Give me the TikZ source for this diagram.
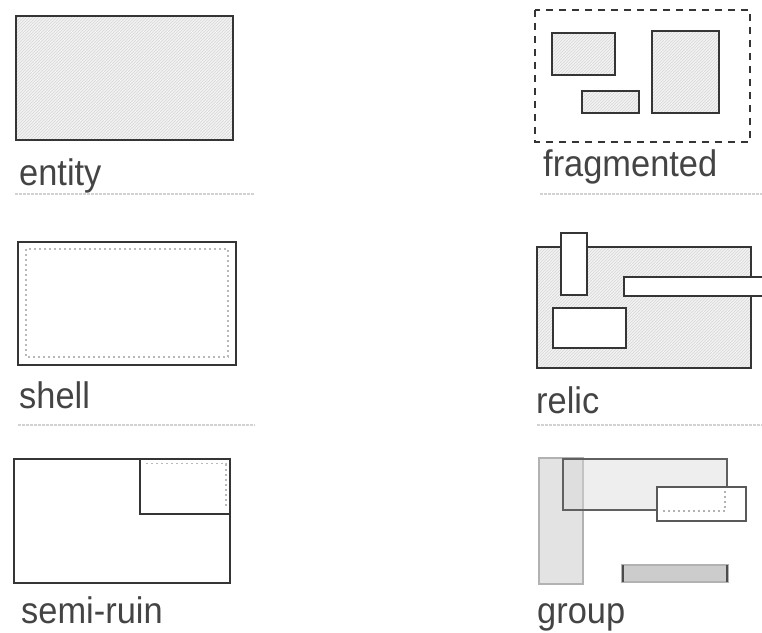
\documentclass[tikz,border=0pt]{standalone}
\usepackage{fontspec}
\setmainfont{Liberation Sans}[FakeStretch=0.93]
\usetikzlibrary{patterns}
\definecolor{ink}{HTML}{353535}
\definecolor{txt}{HTML}{444444}
\definecolor{sep}{HTML}{D2D2D2}
\definecolor{hatchbg}{HTML}{F3F3F3}
\definecolor{hatch}{HTML}{D6D6D6}
\tikzset{
  wall/.style={draw=ink, line width=2.6pt},
  hatched/.style={fill=hatchbg, postaction={pattern=north east lines, pattern color=hatch}},
  ghost/.style={draw=gray!55, line width=1.6pt, dash pattern=on 2pt off 3pt},
  sepline/.style={draw=sep, line width=1.2pt, dash pattern=on 3pt off 1pt},
  label/.style={font=\fontsize{37}{40}\selectfont, text=txt, inner sep=0pt, anchor=base west},
  frag/.style={draw=ink, line width=2.6pt, dash pattern=on 7pt off 6pt},
}
\begin{document}
\begin{tikzpicture}[x=1pt,y=-1pt]
\useasboundingbox (0,0) rectangle (762,632);
% ---------- entity
\path[hatched] (16,16) rectangle (233,140);
\draw[wall] (16,16) rectangle (233,140);
\node[label] (lentity) at (19,185) {entity};
\draw[sepline] (15,194) -- (255,194);
% ---------- fragmented
\draw[frag] (535,10) rectangle (750,142);
\path[hatched] (552,33) rectangle (615,75);
\draw[wall] (552,33) rectangle (615,75);
\path[hatched] (582,91) rectangle (639,113);
\draw[wall] (582,91) rectangle (639,113);
\path[hatched] (652,31) rectangle (719,113);
\draw[wall] (652,31) rectangle (719,113);
\node[label] (lfrag) at (543,176) {fragmented};
\draw[sepline] (540,194) -- (762,194);
% ---------- shell
\draw[wall] (18,242) rectangle (236,365);
\draw[ghost] (26,249) rectangle (228,357);
\node[label] (lshell) at (19,408) {shell};
\draw[sepline] (18,425) -- (255,425);
% ---------- relic
\path[hatched] (537,247) rectangle (751,368);
\draw[wall] (537,247) rectangle (751,368);
\draw[draw=ink, line width=2.3pt, fill=white] (561,233) rectangle (587,295);
\draw[draw=ink, line width=2.3pt, fill=white] (553,308) rectangle (626,348);
\draw[draw=ink, line width=2.3pt, fill=white] (624,277) rectangle (775,296);
\node[label] (lrelic) at (536,413) {relic};
\draw[sepline] (537,425) -- (762,425);
% ---------- semi-ruin
\draw[wall] (14,459) rectangle (230,583);
\draw[wall] (140,459) -- (140,514) -- (230,514);
\draw[ghost] (146,463.5) -- (226,463.5) -- (226,508);
\node[label] (lsemi) at (21,623) {semi-ruin};
% ---------- group
\draw[draw=gray!60, line width=1.4pt, fill=gray!22] (539,458) rectangle (583,584);
\draw[draw=gray!75!black, line width=1.8pt, fill=gray!30, fill opacity=0.45] (563,459) rectangle (727,510);
\draw[draw=gray!70!black, line width=1.8pt, fill=white] (657,487) rectangle (746,521);
\draw[ghost, draw=gray!60] (663,511) -- (725,511) -- (725,491);
\draw[draw=gray!60, line width=1.4pt, fill=gray!40] (622,565) rectangle (728,582);
\draw[draw=gray!60!black, line width=2pt] (623,565) -- (623,582) (727,565) -- (727,582);
\node[label] (lgroup) at (537,623) {group};
\end{tikzpicture}
\end{document}
